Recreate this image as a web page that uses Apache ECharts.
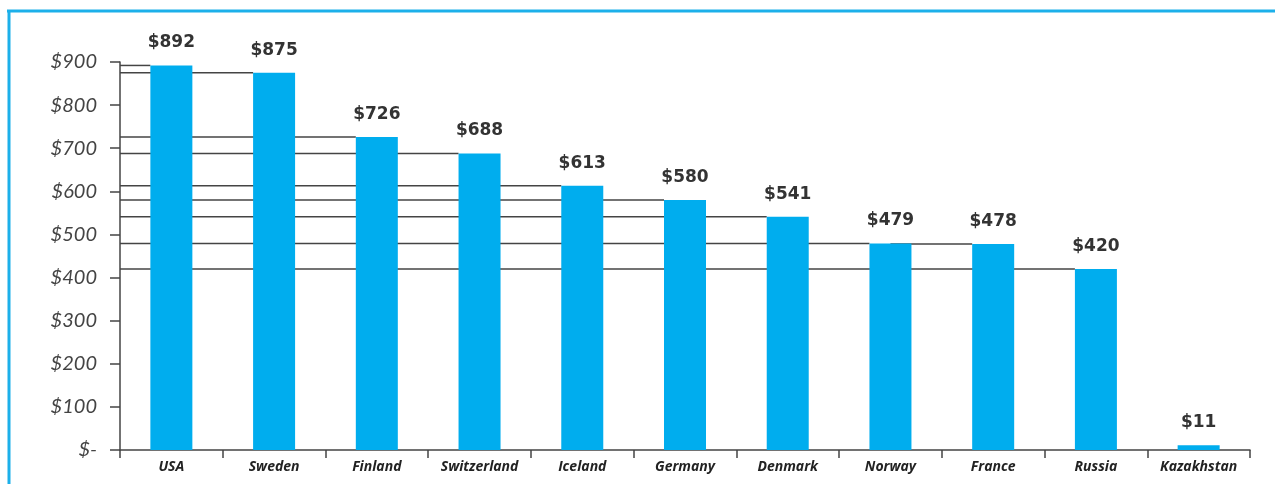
<!DOCTYPE html>
<html>
<head>
<meta charset="utf-8">
<script src="https://cdn.jsdelivr.net/npm/echarts@6/dist/echarts.min.js"></script>
<style>
  html, body { margin: 0; padding: 0; background: #fff; }
  #chart { width: 1275px; height: 484px; }
</style>
</head>
<body>
<div id="chart"></div>
<script>
  // 国家
  var countries = ['USA', 'Sweden', 'Finland', 'Switzerland', 'Iceland', 'Germany', 'Denmark', 'Norway', 'France', 'Russia', 'Kazakhstan']
  // 数值
  var values = [892, 875, 726, 688, 613, 580, 541, 479, 478, 420, 11]
  // 引线起点(类目下标), null = 不画
  var leaderFrom = [0, 0, 0, 0, 0, 0, 0, 0, 7, 0, null]
  // y轴刻度
  var yTicks = [0, 100, 200, 300, 400, 500, 600, 700, 800, 900]

  var BAR_W = 42
  var chart = echarts.init(document.getElementById('chart'))

  var leaderData = []
  values.forEach(function(v, i){
    if(leaderFrom[i] !== null){
      leaderData.push([i, v, leaderFrom[i]])
    }
  })

  var option = {
    animation: false,
    textStyle: { fontFamily: 'Lato' },
    graphic: [
      { type: 'line', shape: { x1: 7, y1: 11, x2: 1275, y2: 11 }, style: { stroke: '#1cb0ea', lineWidth: 3 } },
      { type: 'line', shape: { x1: 9, y1: 11, x2: 9, y2: 484 }, style: { stroke: '#1cb0ea', lineWidth: 3 } }
    ],
    grid: { left: 120, right: 25, top: 62, bottom: 34 },
    xAxis: {
      type: 'category',
      data: countries,
      axisLine: { lineStyle: { color: '#444', width: 1.5 } },
      axisTick: { show: true, interval: 0, length: 8, lineStyle: { color: '#444', width: 1.5 } },
      axisLabel: {
        interval: 0,
        color: '#222',
        fontFamily: 'Open Sans',
        fontSize: 14,
        fontStyle: 'italic',
        fontWeight: 'bold',
        margin: 10
      }
    },
    yAxis: {
      type: 'value',
      min: yTicks[0],
      max: yTicks[yTicks.length - 1],
      interval: 100,
      splitLine: { show: false },
      axisLine: { show: true, lineStyle: { color: '#444', width: 1.5 } },
      axisTick: { show: true, length: 10, lineStyle: { color: '#444', width: 1.5 } },
      axisLabel: {
        color: '#444',
        fontSize: 20,
        fontStyle: 'italic',
        margin: 23,
        formatter: function(v){ return v === 0 ? '$-' : '$' + v }
      }
    },
    series: [
      {
        // 引线 画在柱子后面, 止于柱子左边
        type: 'custom',
        z: 1,
        silent: true,
        data: leaderData,
        renderItem: function(params, api){
          var end = api.coord([api.value(0), api.value(1)])
          var from = api.value(2)
          var startX = from === 0 ? params.coordSys.x : api.coord([from, api.value(1)])[0]
          return {
            type: 'line',
            shape: { x1: startX, y1: end[1], x2: end[0] - BAR_W / 2, y2: end[1] },
            style: { stroke: '#444', lineWidth: 1.5 }
          }
        }
      },
      {
        type: 'bar',
        z: 2,
        data: values,
        barWidth: BAR_W,
        itemStyle: { color: '#00adee' },
        label: {
          show: true,
          position: 'top',
          distance: 14,
          color: '#333',
          fontFamily: 'DejaVu Sans',
          fontSize: 17,
          fontWeight: 'bold',
          formatter: function(p){ return '$' + p.value }
        }
      }
    ]
  }

  chart.setOption(option)
</script>
</body>
</html>
